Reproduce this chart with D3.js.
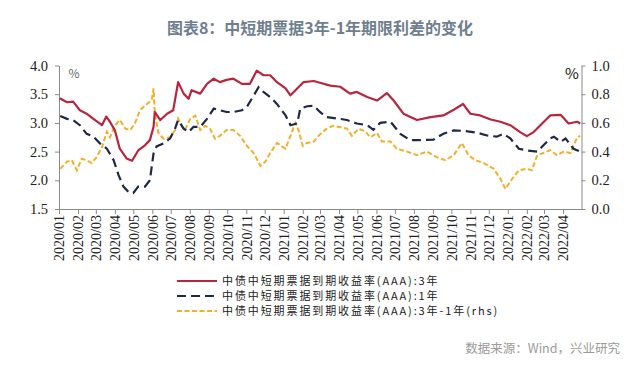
<!DOCTYPE html>
<html><head><meta charset="utf-8">
<script src="https://cdn.jsdelivr.net/npm/d3@7"></script>
<style>body{margin:0;background:#fff;} svg{display:block}</style>
</head><body>
<svg id="c" width="640" height="373"></svg>
<script>
// ---------- data ----------
const title = "图表8：中短期票据3年-1年期限利差的变化";
const seriesNames = ["中债中短期票据到期收益率(AAA):3年", "中债中短期票据到期收益率(AAA):1年", "中债中短期票据到期收益率(AAA):3年-1年(rhs)"];
const sourceText = "数据来源：Wind，兴业研究";
const leftTicks = [1.5, 2.0, 2.5, 3.0, 3.5, 4.0];
const rightTicks = [0.0, 0.2, 0.4, 0.6, 0.8, 1.0];

const dates3y = ["2020-01-02","2020-01-14","2020-01-24","2020-02-04","2020-02-15","2020-02-26","2020-03-11","2020-03-18","2020-03-24","2020-04-01","2020-04-09","2020-04-20","2020-04-29","2020-05-09","2020-05-20","2020-05-28","2020-06-03","2020-06-05","2020-06-14","2020-06-25","2020-07-05","2020-07-13","2020-07-22","2020-07-30","2020-08-04","2020-08-18","2020-08-29","2020-09-09","2020-09-19","2020-09-30","2020-10-11","2020-10-25","2020-11-07","2020-11-18","2020-11-29","2020-12-10","2020-12-21","2021-01-04","2021-01-12","2021-01-23","2021-02-02","2021-02-19","2021-03-01","2021-03-18","2021-04-03","2021-04-19","2021-04-30","2021-05-17","2021-06-02","2021-06-18","2021-06-29","2021-07-15","2021-08-06","2021-08-28","2021-09-18","2021-10-05","2021-10-20","2021-11-01","2021-11-17","2021-12-04","2021-12-20","2022-01-05","2022-01-21","2022-02-01","2022-02-12","2022-02-23","2022-03-11","2022-03-28","2022-04-10","2022-04-24","2022-04-29"];
const yield3y = [3.43,3.36,3.37,3.22,3.16,3.07,2.96,3.11,3.02,2.87,2.55,2.38,2.34,2.52,2.61,2.70,2.93,3.19,3.05,3.16,3.22,3.71,3.51,3.42,3.57,3.51,3.68,3.77,3.71,3.75,3.77,3.68,3.68,3.91,3.83,3.83,3.71,3.60,3.48,3.60,3.71,3.73,3.70,3.65,3.63,3.51,3.54,3.45,3.39,3.52,3.39,3.16,3.05,3.10,3.13,3.23,3.33,3.16,3.13,3.06,3.02,2.96,2.84,2.77,2.84,2.96,3.13,3.14,2.99,3.02,2.99];

const dates1y = ["2020-01-03","2020-01-14","2020-01-24","2020-02-04","2020-02-15","2020-02-26","2020-03-08","2020-03-19","2020-03-30","2020-04-07","2020-04-15","2020-04-23","2020-05-01","2020-05-09","2020-05-20","2020-05-28","2020-06-03","2020-06-08","2020-06-19","2020-06-30","2020-07-08","2020-07-13","2020-07-22","2020-07-30","2020-08-07","2020-08-18","2020-08-29","2020-09-09","2020-09-19","2020-09-30","2020-10-11","2020-10-25","2020-11-02","2020-11-10","2020-11-21","2020-11-29","2020-12-10","2020-12-21","2021-01-04","2021-01-12","2021-01-23","2021-01-28","2021-02-08","2021-02-19","2021-03-01","2021-03-12","2021-04-03","2021-04-14","2021-04-30","2021-05-17","2021-05-27","2021-06-07","2021-06-24","2021-07-10","2021-07-26","2021-08-11","2021-09-02","2021-09-18","2021-10-05","2021-10-21","2021-11-12","2021-11-28","2021-12-14","2021-12-25","2022-01-05","2022-01-19","2022-02-01","2022-02-18","2022-02-28","2022-03-11","2022-03-17","2022-03-28","2022-04-05","2022-04-18","2022-04-29"];
const yield1y = [3.12,3.07,3.05,2.96,2.81,2.76,2.64,2.55,2.35,2.09,1.89,1.80,1.78,1.89,1.89,2.00,2.47,2.59,2.64,2.73,2.90,3.05,2.90,2.84,2.93,2.93,3.07,3.25,3.22,3.19,3.19,3.22,3.28,3.42,3.62,3.54,3.45,3.33,3.13,2.96,2.99,3.25,3.29,3.30,3.19,3.10,3.07,3.05,2.99,2.96,2.88,3.00,3.02,2.81,2.70,2.70,2.71,2.81,2.87,2.86,2.83,2.78,2.76,2.81,2.73,2.55,2.52,2.50,2.61,2.73,2.76,2.67,2.73,2.55,2.50];

const datesSpread = ["2020-01-03","2020-01-14","2020-01-22","2020-01-30","2020-02-07","2020-02-15","2020-02-23","2020-03-02","2020-03-11","2020-03-19","2020-03-24","2020-04-01","2020-04-09","2020-04-18","2020-04-26","2020-05-04","2020-05-12","2020-05-23","2020-05-31","2020-06-03","2020-06-05","2020-06-11","2020-06-19","2020-06-30","2020-07-08","2020-07-13","2020-07-19","2020-07-24","2020-08-02","2020-08-10","2020-08-18","2020-08-26","2020-09-03","2020-09-11","2020-09-19","2020-09-30","2020-10-11","2020-10-22","2020-11-02","2020-11-13","2020-11-24","2020-12-02","2020-12-10","2020-12-21","2021-01-04","2021-01-12","2021-01-20","2021-01-25","2021-02-01","2021-02-08","2021-02-19","2021-03-01","2021-03-12","2021-03-23","2021-04-03","2021-04-14","2021-04-22","2021-05-03","2021-05-14","2021-05-22","2021-06-02","2021-06-10","2021-06-24","2021-07-04","2021-07-21","2021-08-06","2021-08-22","2021-09-08","2021-09-21","2021-10-05","2021-10-18","2021-10-29","2021-11-09","2021-11-23","2021-12-09","2021-12-20","2021-12-28","2022-01-08","2022-01-19","2022-02-01","2022-02-09","2022-02-18","2022-02-28","2022-03-11","2022-03-22","2022-04-02","2022-04-13","2022-04-24","2022-04-29"];
const spread = [0.28,0.33,0.34,0.27,0.35,0.34,0.32,0.36,0.43,0.54,0.50,0.58,0.62,0.56,0.55,0.60,0.69,0.73,0.76,0.84,0.67,0.53,0.49,0.50,0.55,0.63,0.58,0.55,0.63,0.65,0.55,0.58,0.56,0.49,0.51,0.55,0.55,0.51,0.44,0.39,0.30,0.33,0.39,0.46,0.42,0.51,0.60,0.55,0.44,0.46,0.47,0.52,0.56,0.58,0.57,0.56,0.51,0.56,0.54,0.50,0.53,0.47,0.47,0.42,0.40,0.375,0.40,0.36,0.34,0.375,0.46,0.375,0.34,0.32,0.28,0.21,0.14,0.21,0.27,0.28,0.27,0.375,0.39,0.41,0.375,0.40,0.39,0.50,0.51];

// ---------- chart ----------
const svg = d3.select("#c");
const parse = d3.timeParse("%Y-%m-%d");
const colors = ["#b8263e", "#1e2a45", "#f0b02a"];
const axisColor = "#8a8a8a";
const serif = "'Liberation Serif','Times New Roman',serif";
const cjk = "'Noto Sans CJK SC','Noto Sans',sans-serif";

const x = d3.scaleTime().domain([new Date(2020,0,1), new Date(2022,4,1)]).range([59, 581.5]);
const yL = d3.scaleLinear().domain([1.5, 4.0]).range([209, 65.5]);
const yR = d3.scaleLinear().domain([0, 1.0]).range([209, 65.5]);

svg.append("text").attr("x", 320).attr("y", 34).attr("text-anchor", "middle")
  .attr("font-family", cjk).attr("font-size", 16).attr("font-weight", "bold")
  .attr("fill", "#6f7f8f").text(title);

// axes
const gL = svg.append("g").attr("transform", "translate(59,0)")
  .call(d3.axisLeft(yL).tickValues(leftTicks).tickFormat(d3.format(".1f")).tickSize(4).tickSizeOuter(0));
const gR = svg.append("g").attr("transform", "translate(581.5,0)")
  .call(d3.axisRight(yR).tickValues(rightTicks).tickFormat(d3.format(".1f")).tickSize(4).tickSizeOuter(0));
const monthTicks = d3.timeMonth.range(new Date(2020,0,1), new Date(2022,4,1));
const gB = svg.append("g").attr("transform", "translate(0,209)")
  .call(d3.axisBottom(x).tickValues(monthTicks).tickFormat(d3.timeFormat("%Y/%m")).tickSize(5).tickSizeOuter(0));

[gL, gR, gB].forEach(g => {
  g.selectAll("path.domain").attr("stroke", axisColor).attr("stroke-width", 1);
  g.selectAll(".tick line").attr("stroke", axisColor);
  g.selectAll("text").attr("font-family", serif).attr("font-size", 14.5).attr("fill", "#222");
});
gL.selectAll("text").attr("x", -11);
gR.selectAll("text").attr("x", 10);
gB.selectAll("text").attr("transform", "rotate(-90)").attr("text-anchor", "end")
  .attr("x", -6).attr("y", 0).attr("dy", "0.35em").attr("font-size", 14);

svg.append("text").attr("x", 74).attr("y", 78).attr("text-anchor", "middle")
  .attr("font-family", cjk).attr("font-size", 12).attr("fill", "#666").text("%");
svg.append("text").attr("x", 572).attr("y", 79).attr("text-anchor", "middle")
  .attr("font-family", cjk).attr("font-size", 15).attr("fill", "#111").text("%");

// lines
const lineL = d3.line().x(d => x(d[0])).y(d => yL(d[1]));
const lineR = d3.line().x(d => x(d[0])).y(d => yR(d[1]));
const s3 = dates3y.map((d,i) => [parse(d), yield3y[i]]);
const s1 = dates1y.map((d,i) => [parse(d), yield1y[i]]);
const ss = datesSpread.map((d,i) => [parse(d), spread[i]]);

svg.append("path").datum(ss).attr("d", lineR).attr("fill", "none")
  .attr("stroke", colors[2]).attr("stroke-width", 2).attr("stroke-dasharray", "5,2.5");
svg.append("path").datum(s1).attr("d", lineL).attr("fill", "none")
  .attr("stroke", colors[1]).attr("stroke-width", 2.2).attr("stroke-dasharray", "9,5");
svg.append("path").datum(s3).attr("d", lineL).attr("fill", "none")
  .attr("stroke", colors[0]).attr("stroke-width", 2.2).attr("stroke-linejoin", "round");

// legend
const dashes = [null, "9,5", "5,2.5"];
seriesNames.forEach((n, i) => {
  const yy = 281 + i * 15;
  svg.append("line").attr("x1", 177).attr("x2", 217).attr("y1", yy).attr("y2", yy)
    .attr("stroke", colors[i]).attr("stroke-width", 2.2).attr("stroke-dasharray", dashes[i]);
  svg.append("text").attr("x", 222).attr("y", yy + 4).attr("font-family", cjk)
    .attr("font-size", 11).attr("letter-spacing", 1.9).attr("fill", "#222").text(n);
});

svg.append("text").attr("x", 620).attr("y", 353).attr("text-anchor", "end")
  .attr("font-family", cjk).attr("font-size", 12.5).attr("fill", "#9a9a9a").text(sourceText);
</script>
</body></html>
